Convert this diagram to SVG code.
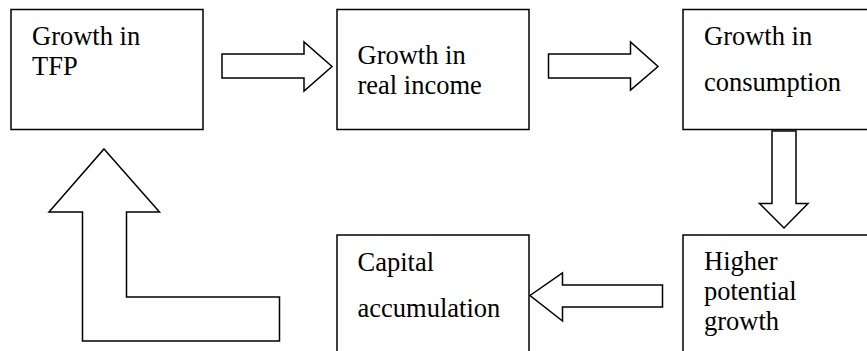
<svg xmlns="http://www.w3.org/2000/svg" width="867" height="351" viewBox="0 0 867 351">
<style>
.box{fill:#fff;stroke:#000;stroke-width:1.5}
.arr{fill:#fff;stroke:#000;stroke-width:1.5;stroke-linejoin:miter}
.t{font-family:"Liberation Serif","Times New Roman",serif;font-size:26.5px;fill:#000}
</style>
<rect width="867" height="351" fill="#fff"/>
<g id="node-tfp">
<rect class="box" x="11" y="9.5" width="192" height="120"/>
<text class="t" x="32" y="45">Growth in</text>
<text class="t" x="32" y="75">TFP</text>
</g>
<g id="node-income">
<rect class="box" x="337" y="9.5" width="192" height="120"/>
<text class="t" x="357.5" y="63.5">Growth in</text>
<text class="t" x="357.5" y="94">real income</text>
</g>
<g id="node-consumption">
<rect class="box" x="683" y="9.5" width="200" height="120"/>
<text class="t" x="704" y="45">Growth in</text>
<text class="t" x="704" y="90.5">consumption</text>
</g>
<g id="node-potential">
<rect class="box" x="683" y="235" width="200" height="130"/>
<text class="t" x="704" y="269.5">Higher</text>
<text class="t" x="704" y="300">potential</text>
<text class="t" x="704" y="330">growth</text>
</g>
<g id="node-capital">
<rect class="box" x="337" y="235" width="192" height="130"/>
<text class="t" x="357.5" y="271">Capital</text>
<text class="t" x="357.5" y="316.5">accumulation</text>
</g>
<g id="connectors">
<polygon class="arr" points="222,54 304,54 304,42 332,66.5 304,91 304,78 222,78"/>
<polygon class="arr" points="548.5,54 630.5,54 630.5,42 658,66.5 630.5,90 630.5,78 548.5,78"/>
<polygon class="arr" points="772,131 796,131 796,203.5 808,203.5 784,228 759.5,203.5 772,203.5"/>
<polygon class="arr" points="662.5,285 562.5,285 562.5,273 530,295.5 562.5,321 562.5,307 662.5,307"/>
<polygon class="arr" points="104,149 159.5,212 126.5,212 126.5,297 279.5,297 279.5,341 82.5,341 82.5,212 49,212"/>
</g>
</svg>
